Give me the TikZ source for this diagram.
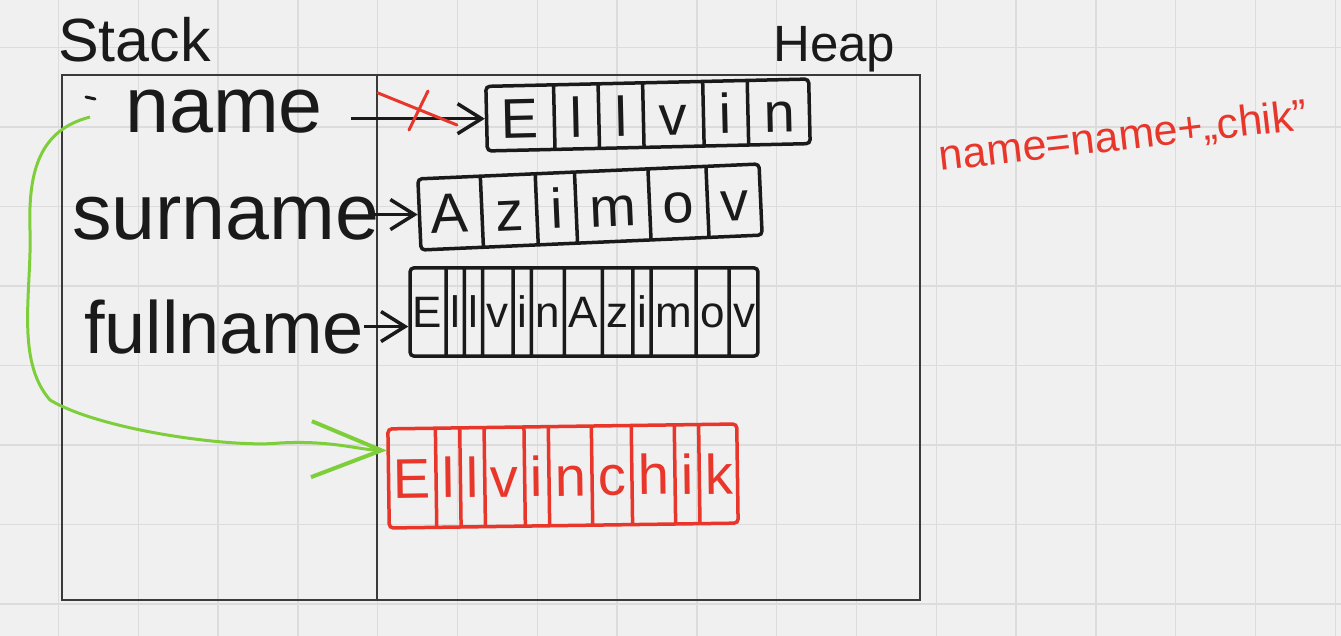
\documentclass[tikz,border=0pt]{standalone}
\usepackage{fontspec}
\setmainfont{Liberation Sans}
\usetikzlibrary{shapes.multipart, arrows.meta}

\definecolor{bgfill}{HTML}{F0F0F0}
\definecolor{gridgray}{HTML}{DCDCDC}
\definecolor{framegray}{HTML}{3A3A3A}
\definecolor{ink}{HTML}{1A1A1A}
\definecolor{hotred}{HTML}{E8362B}
\definecolor{limegreen}{HTML}{7DCE3A}

\begin{document}
\begin{tikzpicture}[x=1pt, y=-1pt,
  grid line/.style={draw=gridgray, line width=1.3pt},
  memframe/.style={draw=framegray, line width=1.8pt},
  areatitle/.style={text=ink, inner sep=0pt, anchor=base west},
  varname/.style={text=ink, inner sep=0pt, anchor=base west, font=\fontsize{79}{79}\selectfont},
  cellrow/.style={draw=ink, text=ink, line width=3.5pt, rounded corners=4pt,
    rectangle split, rectangle split horizontal, rectangle split part align=base},
  red row/.style={cellrow, draw=hotred, text=hotred},
  ptr/.style={draw=ink, line width=3.5pt, -{Straight Barb[length=24pt, width=30pt]}},
  strike/.style={draw=hotred, line width=3pt, line cap=round},
  reassign/.style={draw=limegreen, line width=3pt,
    -{Straight Barb[length=70pt, width=56pt, line width=4pt]}}]

\useasboundingbox (0,0) rectangle (1341,636);
\fill[bgfill] (0,0) rectangle (1341,636);
\foreach \gx in {58.5,138.3,...,1340} \draw[grid line] (\gx,0) -- (\gx,636);
\foreach \gy in {47.5,127,...,636} \draw[grid line] (0,\gy) -- (1341,\gy);

% stack and heap
\draw[memframe] (62,75) rectangle (920,600);
\draw[memframe] (377,75) -- (377,600);
\node[areatitle, font=\fontsize{61}{61}\selectfont] (stack) at (58,62) {Stack};
\node[areatitle, font=\fontsize{51}{51}\selectfont] (heap) at (773,62) {Heap};

% variables
\node[varname] (name) at (125,133) {name};
\node[varname] (surname) at (72,240) {surname};
\node[varname, font=\fontsize{74}{74}\selectfont] (fullname) at (84,353) {fullname};
\coordinate (tail) at (90,117);
\draw[ink, line width=3pt, line cap=round] (86,97) -- (95,99);

% strings on the heap
\node[cellrow, rotate=1.3, inner xsep=14.3pt, inner ysep=12pt, font=\fontsize{56}{56}\selectfont,
  rectangle split parts=6] (arr1) at (648,115)
  {E \nodepart{two} l \nodepart{three} l \nodepart{four} v \nodepart{five} i \nodepart{six} n};
\node[cellrow, rotate=2.5, inner xsep=11.7pt, inner ysep=15pt, font=\fontsize{56}{56}\selectfont,
  rectangle split parts=6] (arr2) at (590,207)
  {A \nodepart{two} z \nodepart{three} i \nodepart{four} m \nodepart{five} o \nodepart{six} v};
\node[cellrow, inner xsep=2.5pt, inner ysep=28pt, font=\fontsize{44}{44}\selectfont,
  rectangle split parts=12] (arr3) at (584,312)
  {E \nodepart{two} l \nodepart{three} l \nodepart{four} v \nodepart{five} i \nodepart{six} n
   \nodepart{seven} A \nodepart{eight} z \nodepart{nine} i \nodepart{ten} m \nodepart{eleven} o
   \nodepart{twelve} v};
\node[red row, rotate=0.8, inner xsep=4.2pt, inner ysep=29pt, font=\fontsize{56}{56}\selectfont,
  rectangle split parts=10] (arr4) at (563,476)
  {E \nodepart{two} l \nodepart{three} l \nodepart{four} v \nodepart{five} i \nodepart{six} n
   \nodepart{seven} c \nodepart{eight} h \nodepart{nine} i \nodepart{ten} k};

% references
\draw[ptr, shorten <=28pt] (arr1.west -| name.east) -- (arr1.west);
\draw[ptr, shorten <=-6pt] (arr2.west -| surname.east) -- (arr2.west);
\draw[ptr] (fullname.east) -- (fullname.east -| arr3.west);
\draw[strike] (378,93) -- (457,125) (428,91) -- (409,130);
\draw[reassign] (tail) .. controls (40,130) and (28,170) .. (30,230)
  .. controls (32,290) and (15,360) .. (50,400)
  .. controls (100,430) and (230,448) .. (280,443)
  .. controls (330,440) and (360,450) .. ([yshift=28pt]arr4.west);

\node[text=hotred, rotate=6.5, anchor=base, font=\fontsize{43}{43}\selectfont] (concat)
  at (1125,150) {name=name+„chik"};
\end{tikzpicture}
\end{document}
